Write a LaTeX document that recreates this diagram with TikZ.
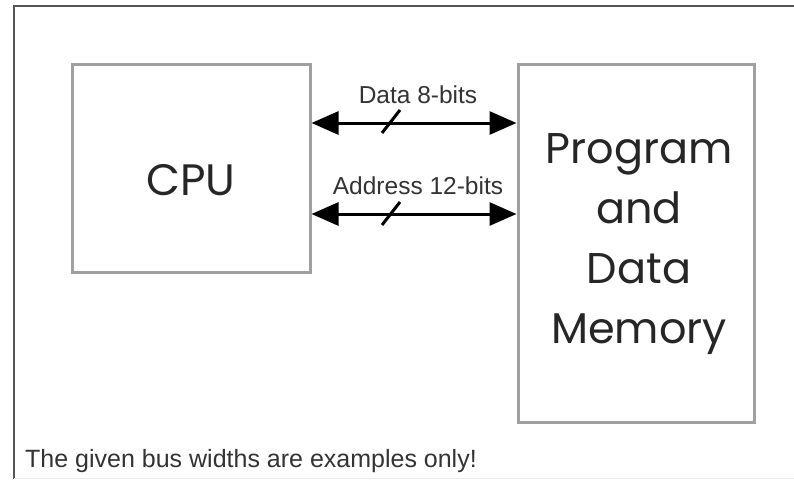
\documentclass[tikz,border=0pt]{standalone}
\usepackage{fontspec}
\setmainfont{Liberation Sans}
\newfontfamily\geofont{Poppins}
\usetikzlibrary{arrows.meta}
\definecolor{boxgray}{HTML}{A0A0A0}
\definecolor{framegray}{HTML}{555555}
\definecolor{txtgray}{HTML}{333333}
\tikzset{
  unitbox/.style={draw=boxgray, line width=3pt, inner sep=0pt},
  bus/.style={line width=3pt, {Triangle[length=27pt,width=23pt]}-{Triangle[length=27pt,width=23pt]}},
  slashmark/.style={line width=3pt},
  buslabel/.style={font=\fontsize{24.5}{28}\selectfont, text=txtgray, inner sep=0pt},
  bigtext/.style={font=\geofont\fontsize{43}{60}\selectfont, text=black!85, inner sep=0pt, align=center},
}
\begin{document}
\begin{tikzpicture}[x=1pt,y=-1pt]
\useasboundingbox (0,0) rectangle (794,479);
% frame
\draw[framegray, line width=2pt] (14,479) -- (14,6) -- (794,6);
\draw[black!8, line width=1pt] (14,478) -- (794,478);
% boxes
\node[unitbox, minimum width=238pt, minimum height=208pt] (cpu) at (191,168) {};
\node[unitbox, minimum width=236pt, minimum height=358pt] (mem) at (636,243) {};
\node[bigtext, font=\geofont\fontsize{44}{60}\selectfont, anchor=base] (cputxt) at (191,195) {CPU};
\node[bigtext, anchor=north] (memtxt) at (639,133) {Program\\and\\Data\\Memory};
% buses
\coordinate (d1) at (cpu.east |- 0,123);
\coordinate (d2) at (mem.west |- 0,123);
\coordinate (a1) at (cpu.east |- 0,214);
\coordinate (a2) at (mem.west |- 0,214);
\draw[bus] (d1) -- (d2);
\draw[bus] (a1) -- (a2);
\coordinate (ds1) at (382,133);
\coordinate (ds2) at (400,110);
\coordinate (as1) at (382,225);
\coordinate (as2) at (400,202);
\draw[slashmark] (ds1) -- (ds2);
\draw[slashmark] (as1) -- (as2);
\node[buslabel, anchor=base] (dlab) at (418,103) {Data 8-bits};
\node[buslabel, anchor=base] (alab) at (418,194) {Address 12-bits};
% note
\node[anchor=base west, inner sep=0pt, text=txtgray, font=\fontsize{25}{30}\selectfont] (note) at (25,467) {The given bus widths are examples only!};
\end{tikzpicture}
\end{document}
